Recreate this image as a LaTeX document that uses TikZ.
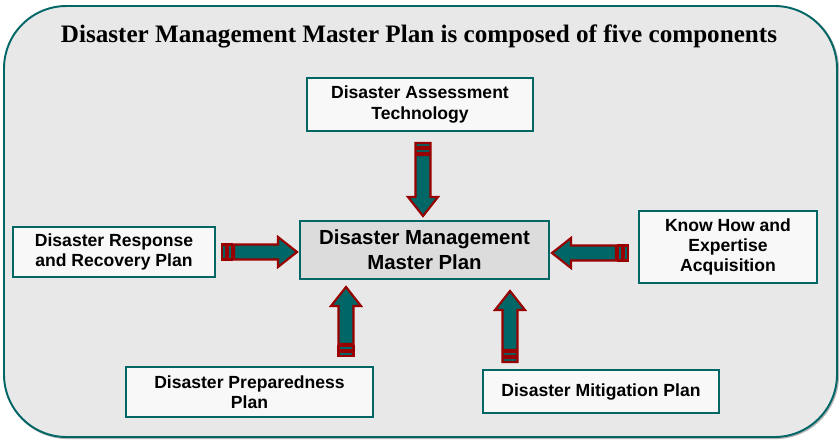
\documentclass[tikz,border=0pt]{standalone}
\usepackage{fontspec}
\setmainfont{Liberation Serif}
\newfontfamily\arialfont{Liberation Sans}
\usepackage{tikz}
\usetikzlibrary{calc}
\usepackage{xcolor}

\definecolor{planteal}{RGB}{0,102,102}
\definecolor{planred}{RGB}{153,0,0}
\definecolor{panelgray}{RGB}{232,232,232}
\definecolor{boxwhite}{RGB}{248,248,248}
\definecolor{mastergray}{RGB}{220,220,220}

\tikzset{
    part/.style={draw=planteal, line width=1.1pt, fill=boxwhite, align=center, inner sep=2pt,
        font=\arialfont\bfseries\fontsize{10}{11.5}\selectfont},
    stripe/.style={draw=planred, fill=planteal, line width=1.2pt},
}

% striped block arrow from #1 (tail) to #2 (tip)
\newcommand\stripelink[2]{%
    \path let \p1=($(#2)-(#1)$) in
        \pgfextra{\pgfmathsetmacro\linkang{atan2(\y1,\x1)}\pgfmathsetmacro\linklen{veclen(\x1,\y1)}%
            \xdef\linkang{\linkang}\xdef\linklen{\linklen}};
    \begin{scope}[shift={(#1)}, rotate=\linkang]
        \draw[stripe] (0,-0.15) rectangle (0.08,0.15);
        \draw[stripe] (0.12,-0.15) rectangle (0.2,0.15);
        \draw[stripe] (0.24,-0.15) -- ({\linklen pt-0.38cm},-0.15) -- ({\linklen pt-0.38cm},-0.3)
            -- (\linklen pt,0) -- ({\linklen pt-0.38cm},0.3) -- ({\linklen pt-0.38cm},0.15)
            -- (0.24,0.15) -- cycle;
    \end{scope}
}

\begin{document}
\begin{tikzpicture}
    \useasboundingbox (0,0) rectangle (16.8,8.82);

    % Panel with its shadow
    \draw[gray!60, line width=1.2pt, rounded corners=1.25cm] (0.1,0.06) rectangle (16.76,8.68);
    \draw[planteal, fill=panelgray, line width=1.1pt, rounded corners=1.25cm] (0.08,0.08) rectangle (16.74,8.7);

    % Heading
    \node (title) at (8.38,8.1) {\fontsize{14.3}{17}\selectfont\bfseries Disaster Management Master Plan is composed of five components};

    % Components
    \node[part, fill=mastergray, minimum width=4.98cm, minimum height=1.16cm,
        font=\arialfont\bfseries\fontsize{11.6}{14.2}\selectfont] (master) at (8.49,3.82) {Disaster Management\\Master Plan};
    \node[part, minimum width=4.52cm, minimum height=1.06cm,
        font=\arialfont\bfseries\fontsize{10}{12.5}\selectfont] (tech) at (8.4,6.73) {Disaster Assessment\\Technology};
    \node[part, minimum width=4.04cm, minimum height=1cm] (response) at (2.28,3.78) {Disaster Response\\and Recovery Plan};
    \node[part, minimum width=3.56cm, minimum height=1.44cm] (knowhow) at (14.56,3.88) {Know How and\\Expertise\\Acquisition};
    \node[part, minimum width=4.94cm, minimum height=1cm] (prepared) at (4.99,0.98) {Disaster Preparedness\\Plan};
    \node[part, minimum width=4.72cm, minimum height=0.86cm] (mitigation) at (12.02,0.99) {Disaster Mitigation Plan};

    % Arrow ends
    \coordinate (techtail) at ($(tech.south)+(0.06,-0.22)$);
    \coordinate (techtip) at ($(master.north)+(-0.03,0.08)$);
    \coordinate (resptail) at ($(response.east)+(0.12,0)$);
    \coordinate (resptip) at ($(master.west)+(-0.04,-0.04)$);
    \coordinate (knowtail) at ($(knowhow.west)+(-0.2,-0.12)$);
    \coordinate (knowtip) at ($(master.east)+(0.04,-0.06)$);
    \coordinate (preptail) at ($(prepared.north)+(1.93,0.2)$);
    \coordinate (preptip) at ($(master.south)+(-1.57,-0.14)$);
    \coordinate (mitigtail) at ($(mitigation.north)+(-1.82,0.14)$);
    \coordinate (mitigtip) at ($(master.south)+(1.71,-0.22)$);

    % Links into the master plan
    \stripelink{techtail}{techtip}
    \stripelink{resptail}{resptip}
    \stripelink{knowtail}{knowtip}
    \stripelink{preptail}{preptip}
    \stripelink{mitigtail}{mitigtip}
\end{tikzpicture}
\end{document}
